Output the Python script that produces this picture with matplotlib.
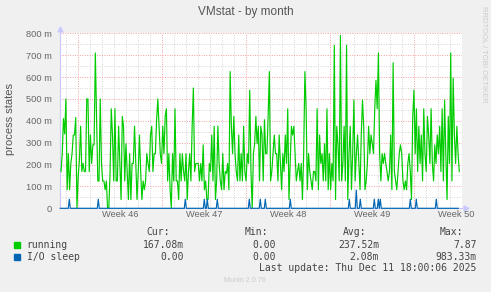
import numpy as np
import matplotlib
matplotlib.use("Agg")
import matplotlib.pyplot as plt
from matplotlib.patches import Rectangle
from matplotlib.ticker import FixedLocator, MultipleLocator

# ---- data (values in milli-units) ----
running = [
    168, 250, 410, 340, 500, 85, 250, 85, 205, 250, 335, 335, 415, 0, 145, 220, 375, 168, 205, 168,
    168, 500, 500, 168, 335, 205, 290, 290, 710, 405, 125, 125, 500, 205, 125, 125, 85, 125, 0, 0,
    160, 455, 335, 125, 455, 125, 125, 375, 205, 40, 420, 375, 125, 295, 168, 40, 250, 40, 205, 205,
    375, 205, 40, 168, 335, 168, 40, 125, 85, 125, 250, 205, 168, 335, 375, 168, 250, 250, 405, 500,
    375, 250, 205, 375, 250, 420, 455, 125, 250, 85, 0, 250, 125, 455, 125, 125, 40, 250, 125, 250,
    168, 125, 250, 40, 168, 250, 125, 375, 550, 168, 205, 205, 205, 125, 205, 125, 290, 85, 125, 40,
    40, 205, 168, 335, 125, 375, 40, 125, 375, 205, 125, 85, 250, 85, 168, 160, 205, 85, 625, 375,
    250, 420, 250, 168, 125, 335, 125, 250, 125, 375, 168, 125,
    250, 205, 540, 168, 0, 250, 295, 420, 295, 375, 125, 375, 335, 125, 405, 250, 250, 420, 625, 125,
    168, 250, 335, 250, 250, 125, 335, 205, 85, 250, 168, 335, 205, 455, 40, 205, 375, 335, 375, 250,
    125, 168, 205, 125, 205, 40, 250, 625, 455, 85, 250, 168, 125, 85, 168, 168, 125, 455, 85, 335,
    205, 250, 125, 295, 125, 455, 85, 250, 85, 205, 125, 745, 40, 375, 290, 125, 790, 125, 205, 375,
    125, 745, 40, 250, 375, 85, 250, 495, 125, 250, 335, 205, 85, 335, 495, 375, 85, 125, 205, 375,
    250, 335, 295, 250, 455, 585, 455, 710, 250, 125, 250, 205, 250, 205, 168, 125, 168, 335, 85, 665,
    168, 125, 85, 168, 250, 290, 250, 125, 85, 125, 85, 205, 250, 168, 40, 420, 540, 250, 455, 168,
    375, 205, 335, 125, 455, 250, 168, 420, 335, 205, 455, 205, 125, 290, 205, 335, 250, 375, 168, 455,
    125, 495, 250, 40, 420, 205, 710, 125, 595, 335, 205, 375, 250, 168,
]
# I/O sleep is zero except for short spikes (day offset from Mon Nov 10, value)
io_spike_days = [-0.75, 1.67, 8.92, 10.53, 10.75, 11.56, 14.27, 15.14, 15.56, 17.64,
                 22.56, 23.17, 23.47, 24.67, 25.0, 25.14, 27.64, 28.2, 29.87]
io_spike_vals = [41.7] * 11 + [83.3] + [41.7] * 7

t_start, t_end = -1.44, 31.75        # days relative to Mon 10 Nov 2025
x_min, x_max = -1.5, 31.95
week_starts = [0, 7, 14, 21, 28]
week_labels = ["Week 46", "Week 47", "Week 48", "Week 49", "Week 50"]
y_ticks = [0, 100, 200, 300, 400, 500, 600, 700, 800]

legend_rows = [
    ("running", "#00CC00", "167.08m", "0.00", "237.52m", "7.87"),
    ("I/O sleep", "#0066B3", "0.00", "0.00", "2.08m", "983.33m"),
]

W, H = 491, 292
fig = plt.figure(figsize=(W / 100, H / 100), dpi=100)
fig.patch.set_facecolor("#F0F0F0")


def fx(px):
    return px / W


def fy(py):
    return 1 - py / H


ax = fig.add_axes([fx(60.3), fy(208.3), fx(461.7) - fx(60.3), fy(33.3) - fy(208.3)])
ax.set_facecolor("white")

t_run = np.linspace(t_start, t_end, len(running))
io_t = np.arange(x_min, t_end, 1 / 12)
io = np.zeros(len(io_t))
for d, v in zip(io_spike_days, io_spike_vals):
    io[np.argmin(np.abs(io_t - d))] = v

ax.plot(t_run, running, color="#00CC00", lw=0.85, zorder=3)
ax.plot(io_t, io, color="#0066B3", lw=0.85, zorder=4, clip_on=False)

ax.set_xlim(x_min, x_max)
ax.set_ylim(0, 800)

# grid
ax.xaxis.set_major_locator(FixedLocator(week_starts))
ax.xaxis.set_minor_locator(MultipleLocator(1))
ax.yaxis.set_major_locator(FixedLocator(y_ticks))
ax.yaxis.set_minor_locator(MultipleLocator(50))
ax.grid(which="minor", color="#D4D4D4", ls=(0, (1, 1.5)), lw=0.7, zorder=1)
ax.grid(which="major", color="#F4A0A0", ls=(0, (1, 1.5)), lw=0.7, zorder=2)
ax.set_xticklabels([])
ax.tick_params(which="both", length=0)
ax.set_yticklabels(["0"] + [f"{v} m" for v in y_ticks[1:]],
                   fontsize=6.7, color="#666666", family="Liberation Sans")
ax.tick_params(axis="y", pad=6)

for ws, lab in zip(week_starts, week_labels):
    ax.text(ws + 3.5, -0.035, lab, transform=ax.get_xaxis_transform(),
            ha="center", va="center", fontsize=6.7, color="#666666",
            family="Liberation Sans", clip_on=False)

for s in ["top", "right"]:
    ax.spines[s].set_visible(False)
for s in ["left", "bottom"]:
    ax.spines[s].set_color("#C8C8FF")
    ax.spines[s].set_linewidth(0.8)
ax.spines["bottom"].set_zorder(1)
ax.plot([0], [1.025], marker="^", ms=3.5, color="#C8C8FF", transform=ax.transAxes, clip_on=False)
ax.plot([1.01], [0], marker=">", ms=3.5, color="#C8C8FF", transform=ax.transAxes, clip_on=False)

# texts
fig.text(fx(245.5), fy(11.7), "VMstat - by month", ha="center", va="center",
         fontsize=8.5, color="#555555", family="Liberation Sans")
fig.text(fx(10), fy(119), "process states", ha="center", va="center", rotation=90,
         fontsize=8, color="#555555", family="Liberation Sans")
fig.text(fx(484), fy(54), "RRDTOOL / TOBI OETIKER", ha="center", va="center", rotation=-90,
         fontsize=5.5, color="#CCCCCC", family="Liberation Sans")

mono = dict(family="DejaVu Sans Mono", fontsize=7, color="#444444", va="center")
col_right = [170, 268, 366, 463]
for x, h in zip(col_right, ["Cur:", "Min:", "Avg:", "Max:"]):
    fig.text(fx(x), fy(232.3), h, ha="right", **mono)

val_right = [184, 275.7, 379, 476.7]
for i, (name, color, *vals) in enumerate(legend_rows):
    y = 245 + 12 * i
    fig.patches.append(Rectangle((fx(14), fy(y + 2.7)), fx(5.5), fy(0) - fy(5.5),
                                 transform=fig.transFigure, color=color))
    fig.text(fx(26.7), fy(y), name, ha="left", **mono)
    for x, v in zip(val_right, vals):
        fig.text(fx(x), fy(y), v, ha="right", **mono)

fig.text(fx(476.7), fy(268.3), "Last update: Thu Dec 11 18:00:06 2025", ha="right", **mono)
fig.text(fx(245), fy(280), "Munin 2.0.76", ha="center", va="center",
         fontsize=5.2, color="#CCCCCC", family="Liberation Sans")

fig.savefig("out.png", dpi=100, facecolor=fig.get_facecolor())
